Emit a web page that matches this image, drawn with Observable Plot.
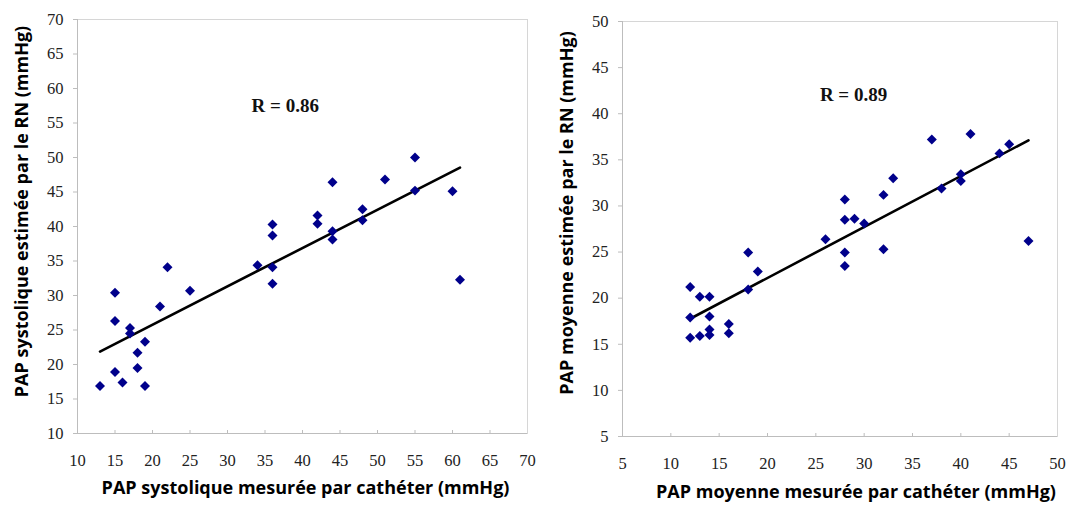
<!DOCTYPE html>
<html>
<head>
<meta charset="utf-8">
<script src="https://cdn.jsdelivr.net/npm/d3@7"></script>
<script src="https://cdn.jsdelivr.net/npm/@observablehq/plot@0.6"></script>
<style>
  html, body { margin: 0; padding: 0; background: #fff; }
  #wrap { display: flex; width: 1071px; height: 507px; }
  svg { display: block; }
</style>
</head>
<body>
<div id="wrap"></div>
<script>
// ---- Left panel: PAP systolique ----
const sysMeasured = [13, 15, 15, 15, 16, 17, 17, 18, 18, 19, 19, 21, 22, 25, 34, 36, 36, 36, 36, 42, 42, 44, 44, 44, 48, 48, 51, 55, 55, 60, 61];
const sysEstimated = [16.9, 30.4, 26.3, 18.9, 17.4, 25.3, 24.5, 21.7, 19.5, 23.3, 16.9, 28.4, 34.1, 30.7, 34.4, 40.3, 38.7, 34.1, 31.7, 41.6, 40.4, 46.4, 39.3, 38.1, 42.5, 40.9, 46.8, 50.0, 45.2, 45.1, 32.3];
const sysTicks = [10, 15, 20, 25, 30, 35, 40, 45, 50, 55, 60, 65, 70];
const sysR = "R = 0.86";
const sysXTitle = "PAP systolique mesurée par cathéter (mmHg)";
const sysYTitle = "PAP systolique estimée par le RN (mmHg)";

// ---- Right panel: PAP moyenne ----
const meanMeasured = [12, 12, 12, 13, 13, 14, 14, 14, 14, 16, 16, 18, 18, 19, 26, 28, 28, 28, 28, 29, 30, 32, 32, 33, 37, 38, 40, 40, 41, 44, 45, 47];
const meanEstimated = [21.2, 17.9, 15.7, 20.15, 15.9, 20.15, 18.0, 16.6, 16.0, 17.2, 16.2, 24.95, 20.95, 22.9, 26.4, 30.7, 28.5, 24.95, 23.5, 28.6, 28.1, 31.2, 25.3, 33.0, 37.2, 31.9, 33.45, 32.7, 37.8, 35.7, 36.7, 26.2];
const meanTicks = [5, 10, 15, 20, 25, 30, 35, 40, 45, 50];
const meanR = "R = 0.89";
const meanXTitle = "PAP moyenne mesurée par cathéter (mmHg)";
const meanYTitle = "PAP moyenne estimée par le RN (mmHg)";

const DOT = "#00008b";
const AXIS = "#bdbdbd";
const FRAME = "#d6d6d6";
const SERIF = "'Liberation Serif', 'Times New Roman', serif";
const SANS = "'Open Sans', 'Noto Sans', sans-serif";

function panel(o) {
  const data = o.xs.map((x, i) => ({x, y: o.ys[i]}));
  const lo = o.ticks[0], hi = o.ticks[o.ticks.length - 1];
  return Plot.plot({
    width: o.width,
    height: 507,
    marginLeft: o.ml, marginRight: o.mr, marginTop: o.mt, marginBottom: o.mb,
    style: {background: "#fff", color: "#222", overflow: "visible"},
    x: {domain: [lo, hi]},
    y: {domain: [lo, hi]},
    marks: [
      Plot.frame({stroke: FRAME}),
      Plot.ruleX([lo], {stroke: AXIS}),
      Plot.ruleY([lo], {stroke: AXIS}),
      Plot.axisY({ticks: o.ticks, tickSize: 4, tickPadding: 10, stroke: AXIS, fontFamily: SERIF, fontSize: 16.5, label: null}),
      Plot.axisX({ticks: o.ticks, tickSize: 0, tickPadding: 21, fontFamily: SERIF, fontSize: 16.5, label: null}),
      Plot.axisX({ticks: o.ticks.slice(1, -1), tickSize: -3, text: null, stroke: AXIS, label: null}),
      Plot.linearRegressionY(data, {x: "x", y: "y", ci: 0, stroke: "#000", strokeWidth: 2.6}),
      Plot.dot(data, {x: "x", y: "y", symbol: "diamond2", r: 4.5, fill: DOT, stroke: "none"}),
      Plot.text([{x: o.rx, y: o.ry, t: o.r}], {x: "x", y: "y", text: "t", fontFamily: SERIF, fontWeight: "bold", fontSize: 19, fill: "#111"}),
      Plot.text([o.xTitle], {frameAnchor: "bottom", textAnchor: "middle", dy: o.xtdy, dx: o.xtdx, fontFamily: SANS, fontWeight: "bold", fontSize: 18, fill: "#000"}),
      Plot.text([o.yTitle], {frameAnchor: "left", textAnchor: "middle", rotate: -90, dx: -55, dy: o.ytdy, fontFamily: SANS, fontWeight: "bold", fontSize: 18, fill: "#000"})
    ]
  });
}

const wrap = document.getElementById("wrap");
wrap.append(panel({
  xs: sysMeasured, ys: sysEstimated, ticks: sysTicks, r: sysR, rx: 37.7, ry: 57.5,
  xTitle: sysXTitle, yTitle: sysYTitle,
  width: 540, ml: 77, mr: 13, mt: 19, mb: 74, xtdy: 60, xtdx: 3, ytdy: -15
}));
wrap.append(panel({
  xs: meanMeasured, ys: meanEstimated, ticks: meanTicks, r: meanR, rx: 28.9, ry: 42,
  xTitle: meanXTitle, yTitle: meanYTitle,
  width: 531, ml: 82, mr: 14, mt: 21, mb: 71, xtdy: 61, xtdx: 16, ytdy: -16
}));
</script>
</body>
</html>
